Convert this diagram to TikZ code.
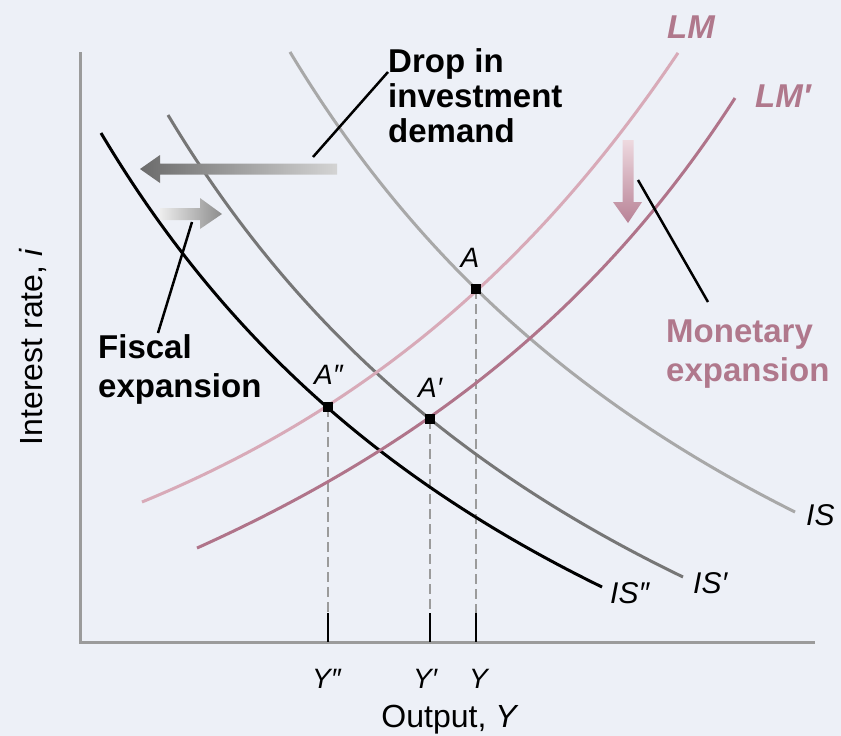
\documentclass[tikz,border=0pt]{standalone}
\usepackage{fontspec}
\setmainfont{Liberation Sans}
\definecolor{bg}{RGB}{237,240,247}
\definecolor{axisgray}{RGB}{155,155,155}
\definecolor{isgray}{RGB}{168,168,168}
\definecolor{isdark}{RGB}{118,118,118}
\definecolor{lmlight}{RGB}{216,170,184}
\definecolor{lmdark}{RGB}{176,116,138}
\definecolor{pinktext}{RGB}{176,120,140}
\begin{document}
\begin{tikzpicture}[x=1pt,y=-1pt,
  curve/.style={line width=3pt},
  lbl/.style={inner sep=0, font=\fontsize{30}{32}\selectfont\itshape},
  ptlbl/.style={inner sep=0, font=\fontsize{28}{30}\selectfont\itshape},
  axlbl/.style={inner sep=0, font=\fontsize{32}{34}\selectfont},
  note/.style={inner sep=0, align=left, font=\fontsize{33}{39}\selectfont\bfseries},
  lmlbl/.style={inner sep=0, text=pinktext, font=\fontsize{33}{35}\selectfont\bfseries\itshape},
  dashline/.style={axisgray, dash pattern=on 10pt off 5pt, line width=2pt},
  tickline/.style={line width=2.5pt, black},
  leader/.style={line width=2.5pt, black},
  dot/.style={fill=black, minimum size=10pt, inner sep=0, rectangle}]
\fill[bg] (0,0) rectangle (841,736);
\useasboundingbox (0,0) rectangle (841,736);
% axes
\draw[axisgray, line width=3pt] (80,52) -- (80,642) -- (815,642);
% dashed guides
\coordinate (Yt) at (476,613); \coordinate (Yb) at (476,642);
\coordinate (Ypt) at (430,613); \coordinate (Ypb) at (430,642);
\coordinate (Yppt) at (328,613); \coordinate (Yppb) at (328,642);
\coordinate (Ac) at (476,289); \coordinate (Apc) at (430,419); \coordinate (Appc) at (328,407);
\draw[dashline] (Ac) -- (Yt);
\draw[dashline] (Apc) -- (Ypt);
\draw[dashline] (Appc) -- (Yppt);
\draw[tickline] (Yt) -- (Yb);
\draw[tickline] (Ypt) -- (Ypb);
\draw[tickline] (Yppt) -- (Yppb);
% IS curves
\draw[curve, isgray] plot[domain=290:795, samples=120] (\x, {1071.1 - 6255.3/((\x+323.8)/100)});
\draw[curve, isdark] plot[domain=168:683, samples=120] (\x, {1115.2 - 6001.1/((\x+432)/100)});
\draw[curve, black] plot[domain=101:602, samples=120] (\x, {1118.4 - 5778.37/((\x+485.4)/100)});
% LM curves
\draw[curve, lmlight] plot[domain=142:678, samples=120] (\x, {674 - 172*exp(0.0024*(\x-142))});
\draw[curve, lmdark] plot[domain=197:735, samples=120] (\x, {1071.2 - 6087/((1360.5-\x)/100)});
% points
\node[dot] (A) at (Ac) {};
\node[dot] (Ap) at (Apc) {};
\node[dot] (App) at (Appc) {};
% shaded arrows
\shade[left color=black!58, right color=black!17] (140,169) -- (160,155) -- (160,163.5) -- (337,163.5) -- (337,174.5) -- (160,174.5) -- (160,183) -- cycle;
\shade[left color=black!7, right color=black!45] (160,208) -- (200,208) -- (200,198) -- (222,214) -- (200,229) -- (200,220) -- (160,220) -- cycle;
\shade[top color=lmlight!45, bottom color=lmdark!90] (622.5,140) -- (633.5,140) -- (633.5,202) -- (642,202) -- (628,223) -- (613,202) -- (622.5,202) -- cycle;
% annotations (base anchor = baseline of last line)
\node[note, anchor=base west, font=\fontsize{33}{35}\selectfont\bfseries] (drop) at (388,142) {Drop in\\investment\\demand};
\node[note, anchor=base west] (fiscal) at (98,397) {Fiscal\\expansion};
\node[note, anchor=base west, text=pinktext] (monetary) at (666,381) {Monetary\\expansion};
\coordinate (dropstart) at (388,72);
\coordinate (dropend) at (313,157);
\coordinate (fiscalstart) at (158,333);
\coordinate (fiscalend) at (192,222);
\coordinate (monstart) at (708,302);
\coordinate (monend) at (638,180);
\draw[leader] (dropstart) -- (dropend);
\draw[leader] (fiscalstart) -- (fiscalend);
\draw[leader] (monstart) -- (monend);
% curve labels
\node[lmlbl, anchor=base west] (LM) at (667,38) {LM};
\node[lmlbl, anchor=base west] (LMp) at (755,107) {LM′};
\node[lbl, anchor=base west] (IS) at (806,525) {IS};
\node[lbl, anchor=base west] (ISp) at (693,593) {IS′};
\node[lbl, anchor=base west] (ISpp) at (610,603) {IS″};
\node[ptlbl, anchor=base] (Alab) at (470,267) {A};
\node[ptlbl, anchor=base west] (Aplab) at (418,397) {A′};
\node[ptlbl, anchor=base west] (Applab) at (314,384) {A″};
\node[ptlbl, anchor=base west] (Ypplab) at (312,688) {Y″};
\node[ptlbl, anchor=base west] (Yplab) at (413,688) {Y′};
\node[ptlbl, anchor=base west] (Ylab) at (469,688) {Y};
\node[axlbl, anchor=base] (xlab) at (450,727) {Output, \textit{Y}};
\node[axlbl, anchor=base, rotate=90] (ylab) at (42,347) {Interest rate, \textit{i}};
\end{tikzpicture}
\end{document}
